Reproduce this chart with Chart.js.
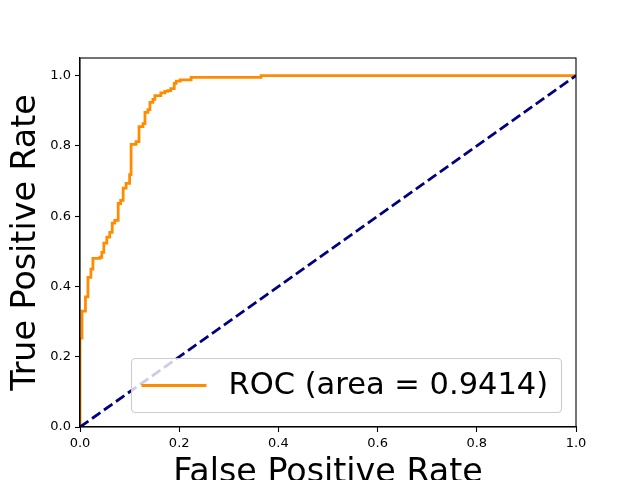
<!DOCTYPE html>
<html>
<head>
<meta charset="utf-8">
<script src="https://cdn.jsdelivr.net/npm/chart.js@4/dist/chart.umd.min.js"></script>
<style>
  html, body { margin: 0; padding: 0; background: #fff; }
  #rocChart { display: block; }
</style>
</head>
<body>
<canvas id="rocChart" width="640" height="480"></canvas>
<script>
// ROC curve points (corners of the step curve)
const fpr = [0, 0, 0.004, 0.004, 0.011, 0.011, 0.016, 0.016, 0.022, 0.022, 0.026, 0.026,
    0.040, 0.040, 0.044, 0.044, 0.048, 0.048, 0.054, 0.054, 0.060, 0.060, 0.065, 0.065,
    0.070, 0.070, 0.077, 0.077, 0.082, 0.082, 0.087, 0.087, 0.093, 0.093, 0.100, 0.100,
    0.103, 0.103, 0.113, 0.113, 0.119, 0.119, 0.127, 0.127, 0.131, 0.131, 0.137, 0.137,
    0.141, 0.141, 0.147, 0.147, 0.151, 0.151, 0.163, 0.163, 0.171, 0.171, 0.177, 0.177,
    0.183, 0.183, 0.190, 0.190, 0.194, 0.194, 0.202, 0.202, 0.224, 0.224, 0.365, 0.365, 1.0];
const tpr = [0, 0.253, 0.253, 0.33, 0.33, 0.37, 0.37, 0.426, 0.426, 0.449, 0.449, 0.48,
    0.48, 0.483, 0.483, 0.497, 0.497, 0.523, 0.523, 0.54, 0.54, 0.554, 0.554, 0.58,
    0.58, 0.588, 0.588, 0.636, 0.636, 0.645, 0.645, 0.68, 0.68, 0.693, 0.693, 0.718,
    0.718, 0.804, 0.804, 0.812, 0.812, 0.855, 0.855, 0.863, 0.863, 0.895, 0.895, 0.903,
    0.903, 0.924, 0.924, 0.932, 0.932, 0.943, 0.943, 0.951, 0.951, 0.955, 0.955, 0.957,
    0.957, 0.963, 0.963, 0.978, 0.978, 0.984, 0.984, 0.988, 0.988, 0.995, 0.995, 1.0, 1.0];
const chanceX = [0, 1];
const chanceY = [0, 1];
const xTicks = [0.0, 0.2, 0.4, 0.6, 0.8, 1.0];
const yTicks = [0.0, 0.2, 0.4, 0.6, 0.8, 1.0];
const rocLabel = 'ROC (area = 0.9414)';

Chart.defaults.font.family = "'DejaVu Sans', sans-serif";
Chart.defaults.color = '#000';

// full box around the axes, like matplotlib spines
const frameBox = {
    id: 'frameBox',
    afterDatasetsDraw(chart) {
        const a = chart.chartArea, ctx = chart.ctx;
        ctx.save();
        ctx.strokeStyle = '#000';
        ctx.lineWidth = 1.1;
        ctx.strokeRect(a.left, a.top, a.right - a.left, a.bottom - a.top);
        ctx.restore();
    }
};

// legend box in the lower right corner of the plot
const cornerLegend = {
    id: 'cornerLegend',
    afterDatasetsDraw(chart) {
        const a = chart.chartArea, ctx = chart.ctx;
        const ds = chart.data.datasets[0];
        const w = 430, h = 54;
        const x = a.right - 14.5 - w, y = a.bottom - 14.5 - h;
        ctx.save();
        ctx.beginPath();
        ctx.roundRect(x, y, w, h, 4);
        ctx.fillStyle = 'rgba(255,255,255,0.8)';
        ctx.fill();
        ctx.strokeStyle = '#cccccc';
        ctx.lineWidth = 1.1;
        ctx.stroke();
        ctx.beginPath();
        ctx.moveTo(x + 10, y + h / 2);
        ctx.lineTo(x + 75, y + h / 2);
        ctx.strokeStyle = ds.borderColor;
        ctx.lineWidth = ds.borderWidth;
        ctx.stroke();
        ctx.fillStyle = '#000';
        ctx.font = "30.5px 'DejaVu Sans'";
        ctx.textBaseline = 'middle';
        ctx.fillText(ds.label, x + 97, y + h / 2 + 1);
        ctx.restore();
    }
};

new Chart(document.getElementById('rocChart'), {
    type: 'scatter',
    data: {
        datasets: [{
            label: rocLabel,
            data: fpr.map((x, i) => ({ x: x, y: tpr[i] })),
            showLine: true,
            borderColor: '#ff8c00',
            backgroundColor: '#ff8c00',
            borderWidth: 2.78,
            pointRadius: 0,
            tension: 0,
            clip: 0,
            order: 1
        }, {
            label: 'chance',
            data: chanceX.map((x, i) => ({ x: x, y: chanceY[i] })),
            showLine: true,
            borderColor: '#000080',
            borderWidth: 2.78,
            borderDash: [10.3, 4.4],
            pointRadius: 0,
            clip: 0,
            order: 0
        }]
    },
    options: {
        responsive: false,
        animation: false,
        devicePixelRatio: 1,
        layout: { padding: { top: 58, right: 64, left: 0, bottom: 0 } },
        plugins: {
            legend: { display: false },
            tooltip: { enabled: false }
        },
        scales: {
            x: {
                type: 'linear',
                min: 0,
                max: 1,
                afterBuildTicks: s => { s.ticks = xTicks.map(v => ({ value: v })); },
                afterFit: s => { s.height = 53; },
                ticks: { font: { size: 13 }, padding: 4, callback: v => v.toFixed(1) },
                grid: { drawOnChartArea: false, drawTicks: true, tickLength: 5, tickColor: '#000', tickWidth: 1.1 },
                border: { display: true, color: '#000', width: 1.1 },
                title: { display: true, text: 'False Positive Rate', font: { size: 33.3 }, padding: { top: 0, bottom: -13 } }
            },
            y: {
                type: 'linear',
                min: 0,
                max: 1.05,
                afterBuildTicks: s => { s.ticks = yTicks.map(v => ({ value: v })); },
                afterFit: s => { s.width = 80; },
                ticks: { font: { size: 13 }, padding: 4, callback: v => v.toFixed(1) },
                grid: { drawOnChartArea: false, drawTicks: true, tickLength: 5, tickColor: '#000', tickWidth: 1.1 },
                border: { display: true, color: '#000', width: 1.1 },
                title: { display: true, text: 'True Positive Rate', font: { size: 33.3 }, padding: { top: 6, bottom: 0 } }
            }
        }
    },
    plugins: [frameBox, cornerLegend]
});
</script>
</body>
</html>
